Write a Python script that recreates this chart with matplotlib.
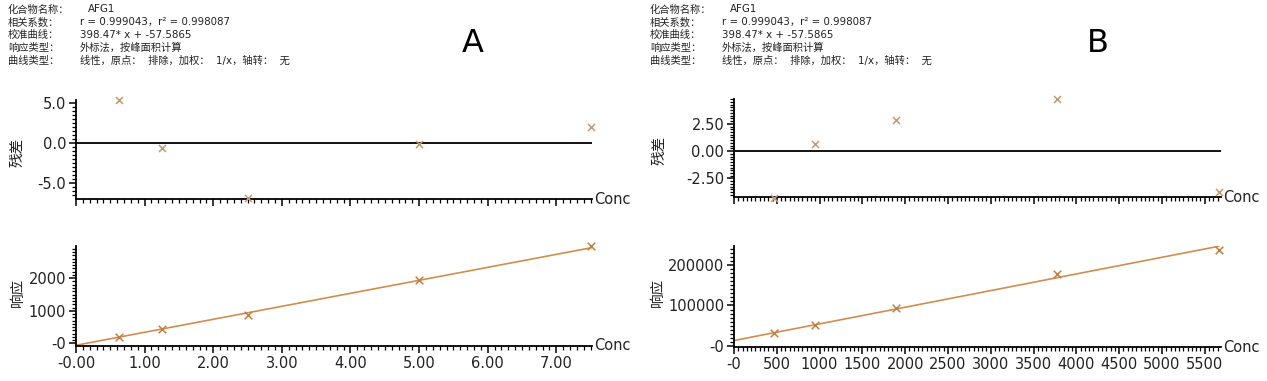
import matplotlib
matplotlib.use("Agg")
import matplotlib.pyplot as plt
from matplotlib.ticker import FixedLocator, FixedFormatter, MultipleLocator

# ---------------- data ----------------
header_labels = ["化合物名称：", "相关系数：", "校准曲线：", "响应类型：", "曲线类型："]
header_values = ["AFG1", "r = 0.999043，r² = 0.998087", "398.47* x + -57.5865",
                 "外标法，按峰面积计算", "线性，原点：  排除，加权：  1/x，轴转：  无"]

conc_A = [0.625, 1.25, 2.5, 5.0, 7.5]
resid_A = [5.4, -0.6, -6.8, -0.1, 1.95]
resp_A = [202, 438, 875, 1933, 2988]
slope_A, icpt_A = 398.47, -57.5865

conc_B = [472, 944, 1888, 3776, 5664]
resid_B = [-4.3, 0.64, 2.85, 4.78, -3.76]
resp_B = [31500, 52600, 93700, 176800, 237000]
slope_B, icpt_B = 41.1, 13500

xticks_A = [0, 1, 2, 3, 4, 5, 6, 7]
xticklabels_A = ["-0.00", "1.00", "2.00", "3.00", "4.00", "5.00", "6.00", "7.00"]
rticks_A = [-5, 0, 5]
rticklabels_A = ["-5.0", "0.0", "5.0"]
yticks_A = [0, 1000, 2000]
yticklabels_A = ["-0", "1000", "2000"]

xticks_B = [0, 500, 1000, 1500, 2000, 2500, 3000, 3500, 4000, 4500, 5000, 5500]
xticklabels_B = ["-0", "500", "1000", "1500", "2000", "2500", "3000", "3500",
                 "4000", "4500", "5000", "5500"]
rticks_B = [-2.5, 0, 2.5]
rticklabels_B = ["-2.50", "0.00", "2.50"]
yticks_B = [0, 100000, 200000]
yticklabels_B = ["-0", "100000", "200000"]

panel_letters = ["A", "B"]

# ---------------- style ----------------
W, H = 1267, 381
CJK = ["Noto Sans CJK SC", "DejaVu Sans"]
LAT = ["DejaVu Sans", "Noto Sans CJK SC"]
plt.rcParams['font.family'] = CJK
res_marker_c = "#C8996C"
resp_marker_c = "#C27F45"
line_c = "#D08D50"
txt_c = "#222222"

fig = plt.figure(figsize=(W / 100, H / 100), dpi=100)


def px_axes(l, t, r, b):
    return fig.add_axes([l / W, 1 - b / H, (r - l) / W, (b - t) / H])


def style(ax, xmaj, xlab, xmin_step, ymaj, ylab, ymin_step, show_xlabels):
    for s in ["top", "right"]:
        ax.spines[s].set_visible(False)
    for s in ["left", "bottom"]:
        ax.spines[s].set_linewidth(1.3)
    ax.xaxis.set_major_locator(FixedLocator(xmaj))
    ax.xaxis.set_major_formatter(FixedFormatter(xlab))
    ax.xaxis.set_minor_locator(MultipleLocator(xmin_step))
    ax.yaxis.set_major_locator(FixedLocator(ymaj))
    ax.yaxis.set_major_formatter(FixedFormatter(ylab))
    ax.yaxis.set_minor_locator(MultipleLocator(ymin_step))
    ax.tick_params(which="major", length=5, width=1.1, labelsize=10.5, pad=2,
                   labelfontfamily="DejaVu Sans", colors="black", labelcolor=txt_c)
    ax.tick_params(which="minor", length=2.8, width=0.9)
    if not show_xlabels:
        ax.tick_params(axis="x", labelbottom=False)
    ax.text(1.004, 0, "Conc", transform=ax.transAxes, fontsize=10.5,
            family="DejaVu Sans", va="center", ha="left", color=txt_c)


def set_ylabel_px(ax, text, x_px, y_px):
    # place a vertical label centred at pixel position (x_px, y_px)
    ax.set_ylabel("")
    fig.text(x_px / W, 1 - y_px / H, text, fontsize=10.5, family=CJK, color=txt_c,
             rotation=90, ha="center", va="center")


def header(x0, xv):
    y0 = 9.5
    for i, (lab, val) in enumerate(zip(header_labels, header_values)):
        y = y0 + i * 12.8
        fig.text(x0 / W, 1 - y / H, lab, fontsize=7.4, family=CJK,
                 va="center", ha="left", color=txt_c)
        xx = xv + 8 if i == 0 else xv
        fig.text(xx / W, 1 - y / H, val, fontsize=7.4, family=LAT,
                 va="center", ha="left", color=txt_c)


# ---------------- panel A ----------------
header(8, 80)
fig.text(473 / W, 1 - 44 / H, panel_letters[0], fontsize=23, family="DejaVu Sans",
         ha="center", va="center")

axr = px_axes(76, 100, 592, 199)
axr.scatter(conc_A, resid_A, marker="x", s=26, color=res_marker_c, linewidths=1.1,
            clip_on=False, zorder=3)
axr.axhline(0, color="black", lw=1.3)
axr.set_xlim(0, 7.52)
axr.set_ylim(-6.95, 5.35)
style(axr, xticks_A, xticklabels_A, 0.1, rticks_A, rticklabels_A, 0.5, False)
set_ylabel_px(axr, "残差", 18, 152)

axp = px_axes(76, 246, 592, 346)
axp.plot([0, max(conc_A)], [icpt_A, slope_A * max(conc_A) + icpt_A], color=line_c, lw=1.2)
axp.scatter(conc_A, resp_A, marker="x", s=30, color=resp_marker_c, linewidths=1.1,
            clip_on=False, zorder=3)
axp.set_xlim(0, 7.52)
axp.set_ylim(-80, 2988)
style(axp, xticks_A, xticklabels_A, 0.1, yticks_A, yticklabels_A, 100, True)
set_ylabel_px(axp, "响应", 18, 292)

# ---------------- panel B ----------------
header(650, 722)
fig.text(1098 / W, 1 - 44 / H, panel_letters[1], fontsize=23, family="DejaVu Sans",
         ha="center", va="center")

bxr = px_axes(734, 99, 1221, 197)
bxr.scatter(conc_B, resid_B, marker="x", s=26, color=res_marker_c, linewidths=1.1,
            clip_on=False, zorder=3)
bxr.axhline(0, color="black", lw=1.3)
bxr.set_xlim(0, 5690)
bxr.set_ylim(-4.2, 4.77)
style(bxr, xticks_B, xticklabels_B, 50, rticks_B, rticklabels_B, 0.25, False)
set_ylabel_px(bxr, "残差", 660, 150)

bxp = px_axes(734, 246, 1221, 347)
bxp.plot([0, max(conc_B)], [icpt_B, slope_B * max(conc_B) + icpt_B], color=line_c, lw=1.2)
bxp.scatter(conc_B, resp_B, marker="x", s=30, color=resp_marker_c, linewidths=1.1,
            clip_on=False, zorder=3)
bxp.set_xlim(0, 5690)
bxp.set_ylim(-2500, 246900)
style(bxp, xticks_B, xticklabels_B, 50, yticks_B, yticklabels_B, 10000, True)
set_ylabel_px(bxp, "响应", 658, 292)

fig.savefig("out.png", dpi=100)
